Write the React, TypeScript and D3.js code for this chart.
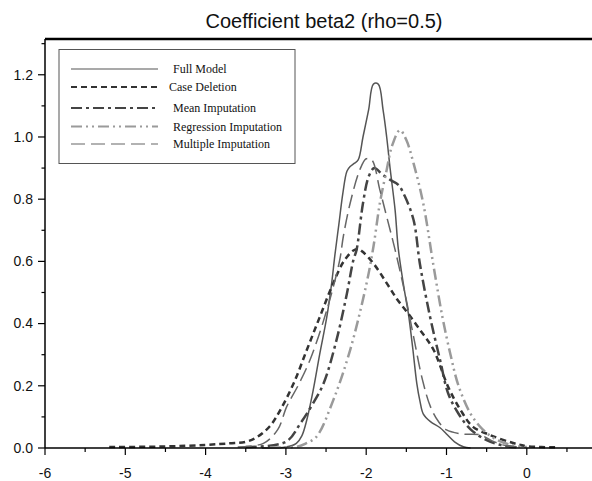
import React, { useEffect, useRef } from "react";
import * as d3 from "d3";

const TITLE = "Coefficient beta2 (rho=0.5)";
const X_TICKS = [-6, -5, -4, -3, -2, -1, 0];
const X_MINOR = [-5.5, -4.5, -3.5, -2.5, -1.5, -0.5, 0.5];
const Y_TICKS = [0, 0.2, 0.4, 0.6, 0.8, 1.0, 1.2];
const Y_MINOR = [0.1, 0.3, 0.5, 0.7, 0.9, 1.1, 1.3];

const fullX = [-3.3, -3.0, -2.87, -2.8, -2.74, -2.66, -2.58, -2.49, -2.43, -2.39, -2.34, -2.29, -2.24, -2.2, -2.15, -2.1, -2.04, -1.97, -1.91, -1.85, -1.79, -1.745, -1.7, -1.64, -1.6, -1.52, -1.475, -1.42, -1.37, -1.33, -1.29, -1.2, -1.08, -1.0, -0.9, -0.79, -0.7];
const fullY = [0, 0.003, 0.015, 0.04, 0.09, 0.186, 0.3, 0.422, 0.53, 0.62, 0.72, 0.82, 0.89, 0.905, 0.915, 0.926, 1.0, 1.087, 1.17, 1.17, 1.087, 1.0, 0.894, 0.765, 0.64, 0.5, 0.433, 0.32, 0.208, 0.15, 0.11, 0.085, 0.065, 0.045, 0.02, 0.004, 0];

const caseX = [-5.2, -4.5, -4.0, -3.7, -3.5, -3.36, -3.2, -3.07, -2.9, -2.74, -2.58, -2.41, -2.28, -2.16, -2.1, -2.04, -1.9, -1.745, -1.62, -1.5, -1.33, -1.16, -0.98, -0.82, -0.67, -0.46, -0.17, 0, 0.4];
const caseY = [0.003, 0.005, 0.01, 0.015, 0.02, 0.035, 0.07, 0.122, 0.21, 0.315, 0.42, 0.53, 0.6, 0.635, 0.64, 0.63, 0.59, 0.53, 0.48, 0.44, 0.38, 0.315, 0.197, 0.12, 0.068, 0.042, 0.016, 0.006, 0.002];

const meanX = [-3.5, -3.0, -2.82, -2.67, -2.53, -2.37, -2.24, -2.16, -2.12, -2.04, -1.97, -1.9, -1.8, -1.7, -1.6, -1.52, -1.41, -1.33, -1.205, -1.08, -0.98, -0.85, -0.7, -0.5, -0.3, -0.1];
const meanY = [0.003, 0.02, 0.079, 0.14, 0.208, 0.347, 0.497, 0.604, 0.637, 0.787, 0.872, 0.9, 0.88, 0.862, 0.846, 0.81, 0.733, 0.59, 0.422, 0.283, 0.176, 0.11, 0.06, 0.025, 0.008, 0.002];

const regX = [-3.2, -2.85, -2.75, -2.62, -2.41, -2.2, -1.995, -1.91, -1.83, -1.745, -1.68, -1.58, -1.5, -1.41, -1.29, -1.16, -1.05, -0.95, -0.85, -0.7, -0.55, -0.4, -0.2, 0.0];
const regY = [0.002, 0.005, 0.015, 0.036, 0.154, 0.315, 0.53, 0.647, 0.787, 0.894, 0.97, 1.022, 0.99, 0.915, 0.787, 0.583, 0.42, 0.3, 0.2, 0.11, 0.06, 0.03, 0.01, 0.003];

const multX = [-3.6, -3.28, -3.1, -2.99, -2.85, -2.7, -2.49, -2.33, -2.285, -2.2, -2.08, -2.0, -1.93, -1.83, -1.745, -1.64, -1.52, -1.41, -1.3, -1.2, -1.1, -1.0, -0.8, -0.58, -0.45, -0.3, -0.1];
const multY = [0.003, 0.015, 0.06, 0.133, 0.2, 0.283, 0.444, 0.604, 0.68, 0.787, 0.894, 0.93, 0.926, 0.83, 0.744, 0.637, 0.5, 0.358, 0.22, 0.133, 0.085, 0.058, 0.045, 0.042, 0.025, 0.01, 0.002];

const SERIES_NAMES = ["Full Model", "Case Deletion", "Mean Imputation", "Regression Imputation", "Multiple Imputation"];
const SERIES_X = [fullX, caseX, meanX, regX, multX];
const SERIES_Y = [fullY, caseY, meanY, regY, multY];
const COLORS = ["#555555", "#333333", "#444444", "#9a9a9a", "#666666"];
const WIDTHS = [1.5, 2.5, 2.5, 2.5, 1.5];
const DASHES = ["", "6,4", "11,4,3,4", "11,4,2,4,2,4", "14,6"];

export default function App() {
  const ref = useRef<SVGSVGElement>(null);
  useEffect(() => {
    const svg = d3.select(ref.current);
    svg.selectAll("*").remove();
    const W = 592, H = 481;
    const left = 45, bottom = 448, top = 39;
    const x = d3.scaleLinear().domain([-6, 1]).range([left, left + 7 * 80.3]);
    const y = d3.scaleLinear().domain([0, 1.315]).range([bottom, top]);

    svg.append("rect").attr("width", W).attr("height", H).attr("fill", "white");

    svg.append("text").attr("x", 324).attr("y", 28).attr("text-anchor", "middle")
      .attr("font-family", "Liberation Sans, Arial, sans-serif").attr("font-size", 20)
      .attr("fill", "#111").text(TITLE);

    const line = d3.line<[number, number]>().x(d => x(d[0])).y(d => y(d[1])).curve(d3.curveCatmullRom.alpha(0.5));
    SERIES_NAMES.forEach((n, i) => {
      const pts: [number, number][] = SERIES_X[i].map((v, j) => [v, SERIES_Y[i][j]]);
      svg.append("path").attr("d", line(pts) as string).attr("fill", "none")
        .attr("stroke", COLORS[i]).attr("stroke-width", WIDTHS[i])
        .attr("stroke-dasharray", DASHES[i] || null).attr("stroke-linejoin", "round");
    });

    svg.append("line").attr("x1", left).attr("x2", W).attr("y1", top).attr("y2", top).attr("stroke", "#000").attr("stroke-width", 2.5);
    svg.append("line").attr("x1", left).attr("x2", left).attr("y1", top).attr("y2", bottom).attr("stroke", "#000").attr("stroke-width", 1.5);
    svg.append("line").attr("x1", left).attr("x2", W).attr("y1", bottom).attr("y2", bottom).attr("stroke", "#000").attr("stroke-width", 1.5);

    const font = "Liberation Sans, Arial, sans-serif";
    Y_TICKS.forEach(t => {
      svg.append("line").attr("x1", left - 7).attr("x2", left).attr("y1", y(t)).attr("y2", y(t)).attr("stroke", "#000").attr("stroke-width", 1.2);
      svg.append("text").attr("x", 33).attr("y", y(t)).attr("dy", "0.35em").attr("text-anchor", "end")
        .attr("font-family", font).attr("font-size", 14).attr("fill", "#111").text(d3.format(".1f")(t));
    });
    Y_MINOR.forEach(t => {
      svg.append("line").attr("x1", left - 3.5).attr("x2", left).attr("y1", y(t)).attr("y2", y(t)).attr("stroke", "#000").attr("stroke-width", 1.2);
    });
    X_TICKS.forEach(t => {
      svg.append("line").attr("x1", x(t)).attr("x2", x(t)).attr("y1", bottom).attr("y2", bottom + 7).attr("stroke", "#000").attr("stroke-width", 1.2);
      svg.append("text").attr("x", x(t)).attr("y", 478).attr("text-anchor", "middle")
        .attr("font-family", font).attr("font-size", 14).attr("fill", "#111").text(String(t));
    });
    X_MINOR.forEach(t => {
      svg.append("line").attr("x1", x(t)).attr("x2", x(t)).attr("y1", bottom).attr("y2", bottom + 4).attr("stroke", "#000").attr("stroke-width", 1.2);
    });

    const lg = svg.append("g");
    lg.append("rect").attr("x", 59).attr("y", 49.5).attr("width", 236).attr("height", 114)
      .attr("fill", "white").attr("stroke", "#555").attr("stroke-width", 1);
    const rowsY = [69, 87, 108, 126.5, 144];
    SERIES_NAMES.forEach((n, i) => {
      lg.append("line").attr("x1", 71).attr("x2", 158).attr("y1", rowsY[i]).attr("y2", rowsY[i])
        .attr("stroke", COLORS[i]).attr("stroke-width", WIDTHS[i] * 0.8)
        .attr("stroke-dasharray", DASHES[i] || null);
      lg.append("text").attr("x", i === 1 ? 169 : 173).attr("y", rowsY[i]).attr("dy", "0.35em")
        .attr("font-family", "Liberation Serif, Times New Roman, serif").attr("font-size", 12)
        .attr("fill", "#111").text(n);
    });
  }, []);
  return (
    <div style={{ position: "fixed", left: 0, top: 0 }}>
      <svg ref={ref} width={592} height={481} style={{ display: "block" }} />
    </div>
  );
}
